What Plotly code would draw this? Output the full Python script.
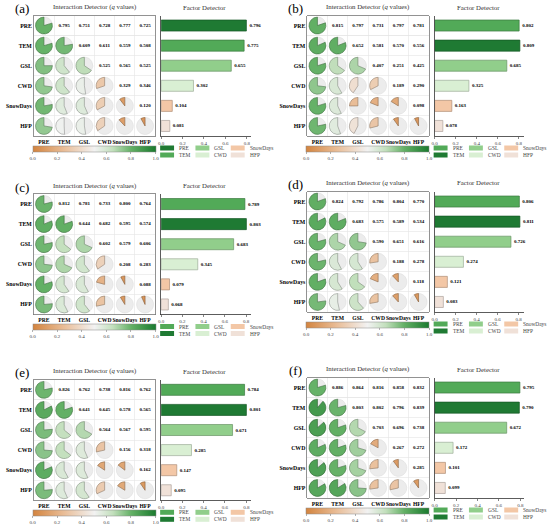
import plotly.graph_objects as go

FACTORS = ["PRE", "TEM", "GSL", "CWD", "SnowDays", "HFP"]
PANEL_LABELS = ["(a)", "(b)", "(c)", "(d)", "(e)", "(f)"]

# ---- Factor detector q values ----
factor_a = [0.796, 0.775, 0.655, 0.302, 0.104, 0.081]
factor_b = [0.802, 0.809, 0.685, 0.325, 0.163, 0.078]
factor_c = [0.789, 0.803, 0.683, 0.345, 0.079, 0.068]
factor_d = [0.806, 0.811, 0.726, 0.274, 0.121, 0.083]
factor_e = [0.784, 0.801, 0.671, 0.285, 0.147, 0.095]
factor_f = [0.795, 0.790, 0.672, 0.172, 0.101, 0.099]

# ---- Interaction detector q values (upper triangle, row by row) ----
inter_a = [[0.795, 0.751, 0.728, 0.777, 0.725],
           [0.609, 0.611, 0.559, 0.508],
           [0.525, 0.565, 0.525],
           [0.329, 0.346],
           [0.120]]
inter_b = [[0.815, 0.797, 0.731, 0.797, 0.781],
           [0.652, 0.581, 0.570, 0.556],
           [0.407, 0.251, 0.425],
           [0.189, 0.290],
           [0.098]]
inter_c = [[0.812, 0.781, 0.733, 0.800, 0.764],
           [0.644, 0.682, 0.595, 0.574],
           [0.602, 0.579, 0.606],
           [0.208, 0.283],
           [0.088]]
inter_d = [[0.824, 0.792, 0.786, 0.804, 0.770],
           [0.683, 0.575, 0.589, 0.534],
           [0.590, 0.651, 0.616],
           [0.188, 0.278],
           [0.118]]
inter_e = [[0.826, 0.762, 0.738, 0.816, 0.762],
           [0.641, 0.645, 0.578, 0.565],
           [0.564, 0.567, 0.595],
           [0.156, 0.318],
           [0.162]]
inter_f = [[0.886, 0.864, 0.816, 0.858, 0.832],
           [0.803, 0.802, 0.796, 0.839],
           [0.703, 0.696, 0.738],
           [0.267, 0.272],
           [0.285]]

# factor drawn in the darkest green in each panel
dark_a, dark_b, dark_c, dark_d, dark_e, dark_f = "PRE", "TEM", "TEM", "TEM", "TEM", "TEM"

FACTOR_Q = [factor_a, factor_b, factor_c, factor_d, factor_e, factor_f]
INTER = [inter_a, inter_b, inter_c, inter_d, inter_e, inter_f]
DARK = [dark_a, dark_b, dark_c, dark_d, dark_e, dark_f]

# ---- styling ----
W, H = 550, 527
FONT = "Liberation Serif"
ORIGINS = [(0, 0), (275, 0), (0, 178.5), (275, 176), (0, 364.3), (275, 362)]
CMAP = [[0.0, "#d3843f"], [0.25, "#e9bd97"], [0.5, "#f2f2f2"],
        [0.65, "#c2dfbc"], [0.8, "#63b065"], [1.0, "#1a7a2e"]]
BAR_COL = {"dark": "#1f7a33", "mid": "#52aa58", "GSL": "#91ce8b",
           "CWD": "#d9efd3", "SnowDays": "#f3c7a6", "HFP": "#f0e1d8"}


def hex2rgb(h):
    return tuple(int(h[i:i + 2], 16) for i in (1, 3, 5))


def cmap(v):
    for (p0, c0), (p1, c1) in zip(CMAP[:-1], CMAP[1:]):
        if p0 <= v <= p1:
            t = (v - p0) / (p1 - p0)
            a, b = hex2rgb(c0), hex2rgb(c1)
            return tuple(a[k] + t * (b[k] - a[k]) for k in range(3))
    return hex2rgb(CMAP[-1][1])


def rgb(c):
    return "rgb(%d,%d,%d)" % tuple(int(round(x)) for x in c)


def darker(c, f=0.6):
    if isinstance(c, str):
        c = hex2rgb(c)
    return rgb(tuple(x * f for x in c))


def fx(x):
    return x / W


def fy(y):
    return 1 - y / H


BOX = (31, 153, 15.5, 136)
BARX = (159, 249)
PIE_D = 17

fig = go.Figure()
lay = {}
ann = []
shapes = []

for p in range(6):
    ox, oy = ORIGINS[p]
    fq = FACTOR_Q[p]
    inter = INTER[p]
    M = [[None] * 6 for _ in range(6)]
    for i in range(6):
        M[i][i] = fq[i]
        if i < 5:
            for k, v in enumerate(inter[i]):
                j = i + 1 + k
                M[i][j] = v
                M[j][i] = v

    n1, n2 = 2 * p + 1, 2 * p + 2
    xr1 = "x" if n1 == 1 else f"x{n1}"
    yr1 = "y" if n1 == 1 else f"y{n1}"
    xr2, yr2 = f"x{n2}", f"y{n2}"
    xk1 = "xaxis" if n1 == 1 else f"xaxis{n1}"
    yk1 = "yaxis" if n1 == 1 else f"yaxis{n1}"
    ca = "coloraxis" if p == 0 else f"coloraxis{p + 1}"

    bx0, bx1, by0, by1 = ox + BOX[0], ox + BOX[1], oy + BOX[2], oy + BOX[3]
    common_cat = dict(type="category", categoryorder="array", categoryarray=FACTORS,
                      fixedrange=True, zeroline=False)
    lay[xk1] = dict(domain=[fx(bx0), fx(bx1)], anchor=yr1, range=[-0.5, 5.5],
                    tickson="boundaries", showgrid=True, gridcolor="#e4e4e4", gridwidth=0.6,
                    showline=True, mirror=True, linecolor="#777", linewidth=0.8,
                    ticks="", tickangle=0, ticklabelstandoff=0,
                    tickfont=dict(size=5.6, color="black", weight="bold"),
                    **common_cat)
    lay[yk1] = dict(domain=[fy(by1), fy(by0)], anchor=xr1, range=[5.5, -0.5],
                    tickson="boundaries", showgrid=True, gridcolor="#e4e4e4", gridwidth=0.6,
                    showline=True, mirror=True, linecolor="#777", linewidth=0.8,
                    ticks="", tickfont=dict(size=5.8, color="black", weight="bold"),
                    **common_cat)

    # upper triangle numbers
    ux, uy, ut = [], [], []
    lx, ly, lv = [], [], []
    for i in range(6):
        for j in range(6):
            if j > i:
                ux.append(FACTORS[j]); uy.append(FACTORS[i]); ut.append(f"{M[i][j]:.3f}")
            else:
                lx.append(FACTORS[j]); ly.append(FACTORS[i]); lv.append(M[i][j])
    fig.add_trace(go.Scatter(x=ux, y=uy, text=ut, mode="text", xaxis=xr1, yaxis=yr1,
                             textfont=dict(size=5, color="black", weight="bold", family=FONT),
                             hoverinfo="skip", showlegend=False))
    fig.add_trace(go.Scatter(x=lx, y=ly, mode="markers", xaxis=xr1, yaxis=yr1, opacity=0,
                             marker=dict(color=lv, coloraxis=ca, size=2),
                             hoverinfo="skip", showlegend=False))

    # pies (lower triangle + diagonal): coloured wedge runs counter-clockwise from 12 o'clock
    cw = (bx1 - bx0) / 6
    rh = (by1 - by0) / 6
    for i in range(6):
        for j in range(i + 1):
            v = M[i][j]
            cx = bx0 + (j + 0.5) * cw
            cy = by0 + (i + 0.5) * rh
            col = cmap(v)
            fig.add_trace(go.Pie(values=[1 - v, v], sort=False, direction="clockwise",
                                 rotation=0, textinfo="none", hoverinfo="skip",
                                 showlegend=False,
                                 marker=dict(colors=["#ececec", rgb(col)],
                                             line=dict(color=["#dddddd", darker(col, 0.62)],
                                                       width=0.6)),
                                 domain=dict(x=[fx(cx - PIE_D / 2), fx(cx + PIE_D / 2)],
                                             y=[fy(cy + PIE_D / 2), fy(cy - PIE_D / 2)])))

    # colorbar
    lay[ca] = dict(colorscale=CMAP, cmin=0, cmax=1,
                   colorbar=dict(orientation="h", x=fx(ox + 91.5), xanchor="center",
                                 y=fy(oy + 145.5), yanchor="top", len=123, lenmode="pixels",
                                 thickness=6, xpad=0, ypad=0, outlinewidth=0.5,
                                 outlinecolor="#888",
                                 tickvals=[0, 0.2, 0.4, 0.6, 0.8, 1.0],
                                 ticktext=["0.0", "0.2", "0.4", "0.6", "0.8", "1.0"],
                                 ticks="outside", ticklen=2, tickwidth=0.5, tickcolor="#666",
                                 tickfont=dict(size=5, color="#444", family=FONT)))

    # factor detector bars
    colors = []
    for name in FACTORS:
        if name in ("PRE", "TEM"):
            colors.append(BAR_COL["dark"] if name == DARK[p] else BAR_COL["mid"])
        else:
            colors.append(BAR_COL[name])
    fig.add_trace(go.Bar(y=FACTORS, x=fq, orientation="h", xaxis=xr2, yaxis=yr2,
                         width=0.55, marker=dict(color=colors,
                                                 line=dict(color=[darker(c, 0.72) for c in colors],
                                                           width=0.7)),
                         text=[f"{v:.3f}" for v in fq], textposition="outside",
                         textfont=dict(size=5, color="black", weight="bold", family=FONT),
                         constraintext="none", cliponaxis=False,
                         hoverinfo="skip", showlegend=False))
    lay[f"xaxis{n2}"] = dict(domain=[fx(ox + BARX[0]), fx(ox + BARX[1])], anchor=yr2,
                             range=[0, 1.05 * max(fq)], tickvals=[0, 0.2, 0.4, 0.6, 0.8],
                             ticktext=["0.0", "0.2", "0.4", "0.6", "0.8"],
                             showline=True, linecolor="#333", linewidth=0.8,
                             ticks="outside", ticklen=2, tickwidth=0.6, tickcolor="#333",
                             tickangle=0,
                             tickfont=dict(size=5, color="#444"), showgrid=False,
                             zeroline=False, fixedrange=True)
    lay[f"yaxis{n2}"] = dict(domain=[fy(by1), fy(by0)], anchor=xr2, range=[5.5, -0.5],
                             showline=True, linecolor="#333", linewidth=0.8,
                             showticklabels=False, ticks="", showgrid=False,
                             **common_cat)

    # legend (manual)
    for k, name in enumerate(FACTORS):
        c, r = k // 2, k % 2
        x0 = ox + 158 + c * 35.5
        yc = oy + 148 + r * 7
        shapes.append(dict(type="rect", xref="paper", yref="paper",
                           x0=fx(x0), x1=fx(x0 + 14), y0=fy(yc + 2.5), y1=fy(yc - 2.5),
                           fillcolor=colors[k], line=dict(width=0)))
        ann.append(dict(x=fx(x0 + 17), y=fy(yc), xref="paper", yref="paper", text=name,
                        showarrow=False, xanchor="left", yanchor="middle",
                        font=dict(size=5.4, color="#444")))

    # titles and panel label
    ann.append(dict(x=fx(ox + 92), y=fy(oy + 7), xref="paper", yref="paper",
                    text="Interaction Detector (<i>q</i> values)", showarrow=False,
                    xanchor="center", yanchor="middle", font=dict(size=6.8, color="#333")))
    ann.append(dict(x=fx(ox + 203), y=fy(oy + 7), xref="paper", yref="paper",
                    text="Factor Detector", showarrow=False,
                    xanchor="center", yanchor="middle", font=dict(size=6.8, color="#333")))
    ann.append(dict(x=fx(ox + 19.5), y=fy(oy + 8.5), xref="paper", yref="paper",
                    text=PANEL_LABELS[p], showarrow=False,
                    xanchor="center", yanchor="middle", font=dict(size=13, color="black")))

fig.update_layout(width=W, height=H, margin=dict(l=0, r=0, t=0, b=0),
                  paper_bgcolor="white", plot_bgcolor="white",
                  font=dict(family=FONT, color="black"),
                  showlegend=False, annotations=ann, shapes=shapes, **lay)
fig.write_html("out.html", config={"displayModeBar": False, "staticPlot": True},
               post_script="document.body.style.margin='0px';document.body.style.overflow='hidden';")
